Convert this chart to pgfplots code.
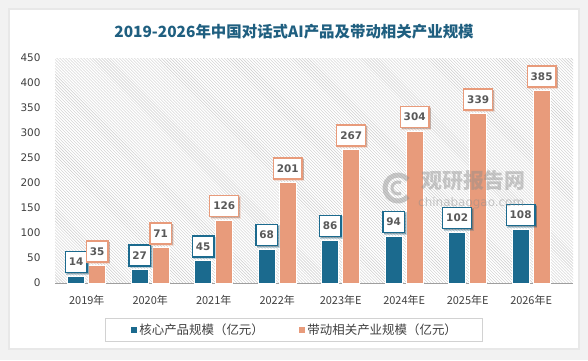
\documentclass[border=0pt]{standalone}
\usepackage{fontspec}
\setmainfont{Noto Sans CJK SC}
\newfontfamily\dv{DejaVu Sans}
\usepackage{pgfplots}
\pgfplotsset{compat=1.18}
\usetikzlibrary{patterns,shadows}
\definecolor{cblue}{HTML}{1B6A8E}
\definecolor{corange}{HTML}{E89B7B}
\definecolor{ctitle}{HTML}{1F5F80}
\definecolor{ctext}{HTML}{595959}
\definecolor{ctick}{HTML}{404040}
\begin{document}
\begin{tikzpicture}[x=1bp,y=1bp]
\fill[gray!10] (0,0) rectangle (588,360);
\fill[gray!18] (8,10) rectangle (580,352);
\fill[white] (10,12) rectangle (578,350);
\node[font=\bfseries\fontsize{15.5}{18}\selectfont, text=ctitle] at (294,328) {2019-2026年中国对话式AI产品及带动相关产业规模};
\begin{axis}[
  at={(55bp,77bp)}, anchor=south west, scale only axis,
  width=518bp, height=225bp,
  ymin=0, ymax=450, xmin=-0.5, xmax=7.66,
  ytick={0,50,...,450},
  xtick={0,...,7},
  xticklabels={2019年,2020年,2021年,2022年,2023年E,2024年E,2025年E,2026年E},
  axis lines*=left,
  y axis line style={draw=none},
  x axis line style={draw=gray!75, line width=1bp},
  tick style={draw=none},
  axis background/.style={pattern=north west lines, pattern color=gray!40},
  /pgf/number format/assume math mode=true,
  yticklabel style={font=\dv\fontsize{10.5}{12}\selectfont, text=ctick, xshift=-11bp},
  xticklabel style={font=\fontsize{11}{13}\selectfont, text=ctick, yshift=-4bp},
  ybar=4bp, bar width=17bp,
  nodes near coords,
  every node near coord/.append style={font=\dv\bfseries\fontsize{10.5}{12}\selectfont, text=ctext, fill=white, line width=1.4bp, inner xsep=3.5bp, inner ysep=2bp, minimum height=21bp, anchor=south, yshift=3bp,
    drop shadow={shadow xshift=1.5bp, shadow yshift=-1.5bp, fill=black, opacity=0.25}},
  legend style={at={(0.462,-0.209)}, anchor=center, legend columns=2, draw=gray!35, line width=1bp,
    font=\fontsize{12.5}{14}\selectfont, text=ctick, inner xsep=24bp, inner ysep=3bp,
    /tikz/every even column/.append style={column sep=32bp}},
  legend image code/.code={\fill[#1] (0bp,-3.5bp) rectangle (7bp,3.5bp);},
]
\addplot[fill=cblue, draw=white, line width=0.6bp, every node near coord/.append style={draw=cblue}] coordinates {(0,14) (1,27) (2,45) (3,68) (4,86) (5,94) (6,102) (7,108)};
\addplot[fill=corange, draw=white, line width=0.6bp, every node near coord/.append style={draw=corange}] coordinates {(0,35) (1,71) (2,126) (3,201) (4,267) (5,304) (6,339) (7,385)};
\legend{核心产品规模（亿元）,带动相关产业规模（亿元）}
\end{axis}
\begin{scope}[opacity=0.45]
\draw[gray!90, line width=5bp] (398,172) ++(40:13) arc (40:320:13);
\draw[gray!90, line width=3bp] (398,172) ++(60:6) arc (60:300:6);
\node[font=\bfseries\fontsize{21}{24}\selectfont, text=gray!90, anchor=west, inner sep=0] at (421,179) {观研报告网};
\node[font=\dv\fontsize{12}{14}\selectfont, text=gray!90, anchor=west, inner sep=0] at (418,157) {chinabaogao.com};
\end{scope}
\end{tikzpicture}
\end{document}
